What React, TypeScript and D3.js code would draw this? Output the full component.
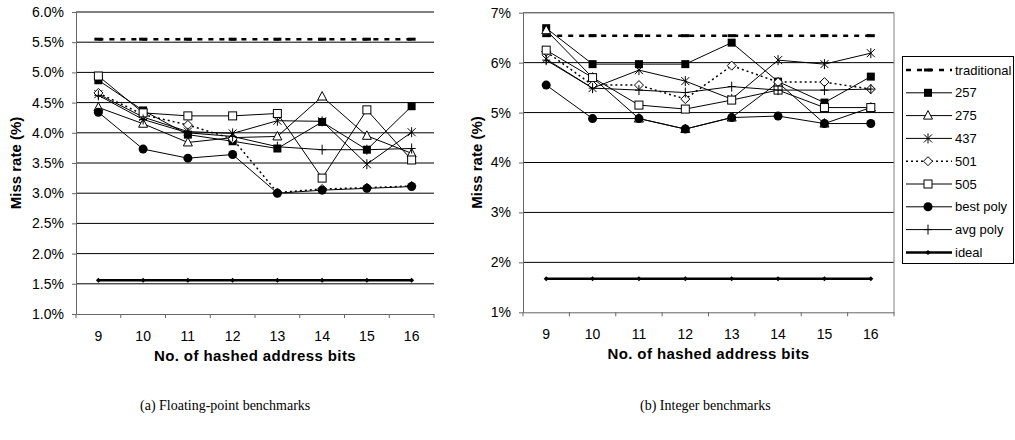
import React, { useEffect, useRef } from 'react'
import * as d3 from 'd3'

// x categories: number of hashed address bits
const bits = ['9', '10', '11', '12', '13', '14', '15', '16']
const seriesNames = ['traditional', '257', '275', '437', '501', '505', 'best poly', 'avg poly', 'ideal']

// (a) floating-point benchmarks, miss rate in %
const fpTraditional = [5.55, 5.55, 5.55, 5.55, 5.55, 5.55, 5.55, 5.55]
const fp257 = [4.87, 4.37, 3.97, 3.86, 3.74, 4.18, 3.72, 4.44]
const fp275 = [4.42, 4.15, 3.84, 3.92, 3.94, 4.6, 3.95, 3.66]
const fp437 = [4.64, 4.26, 4.02, 3.99, 4.2, 4.19, 3.48, 4.01]
const fp501 = [4.66, 4.3, 4.13, 3.9, 3.01, 3.07, 3.09, 3.12]
const fp505 = [4.94, 4.33, 4.28, 4.28, 4.32, 3.25, 4.38, 3.55]
const fpBest = [4.34, 3.73, 3.58, 3.64, 3.0, 3.05, 3.08, 3.11]
const fpAvg = [4.62, 4.22, 4.0, 3.94, 3.77, 3.72, 3.72, 3.74]
const fpIdeal = [1.56, 1.56, 1.56, 1.56, 1.56, 1.56, 1.56, 1.56]
const fpTicks = [1.0, 1.5, 2.0, 2.5, 3.0, 3.5, 4.0, 4.5, 5.0, 5.5, 6.0]

// (b) integer benchmarks, miss rate in %
const intTraditional = [6.54, 6.54, 6.54, 6.54, 6.54, 6.54, 6.54, 6.54]
const int257 = [6.69, 5.97, 5.97, 5.97, 6.4, 5.62, 5.2, 5.72]
const int275 = [6.65, 5.7, 4.88, 4.67, 4.9, 5.6, 4.78, 5.1]
const int437 = [6.07, 5.49, 5.85, 5.63, 5.27, 6.05, 5.97, 6.19]
const int501 = [6.22, 5.55, 5.55, 5.27, 5.94, 5.61, 5.61, 5.47]
const int505 = [6.25, 5.7, 5.15, 5.07, 5.25, 5.45, 5.1, 5.1]
const intBest = [5.55, 4.88, 4.88, 4.67, 4.9, 4.93, 4.78, 4.78]
const intAvg = [6.05, 5.49, 5.45, 5.4, 5.52, 5.45, 5.45, 5.47]
const intIdeal = [1.67, 1.67, 1.67, 1.67, 1.67, 1.67, 1.67, 1.67]
const intTicks = [1, 2, 3, 4, 5, 6, 7]

const styles: any = {
  traditional: { marker: 'dash', width: 2.5, dash: '5,6' },
  '257': { marker: 'square', width: 1 },
  '275': { marker: 'triangle', width: 1 },
  '437': { marker: 'asterisk', width: 1 },
  '501': { marker: 'diamond', width: 1.5, dash: '2,3' },
  '505': { marker: 'openSquare', width: 1 },
  'best poly': { marker: 'circle', width: 1 },
  'avg poly': { marker: 'plus', width: 1 },
  ideal: { marker: 'dot', width: 2.5 },
}

const font = 'Arial, "Liberation Sans", sans-serif'

function drawMarker(g: any, type: string, cx: number, cy: number) {
  if (type === 'dash') {
    g.append('rect').attr('x', cx - 4).attr('y', cy - 1.5).attr('width', 8).attr('height', 3).attr('fill', '#000')
  } else if (type === 'square') {
    g.append('rect').attr('x', cx - 4).attr('y', cy - 4).attr('width', 8).attr('height', 8).attr('fill', '#000')
  } else if (type === 'openSquare') {
    g.append('rect').attr('x', cx - 4).attr('y', cy - 4).attr('width', 8).attr('height', 8)
      .attr('fill', '#fff').attr('stroke', '#000')
  } else if (type === 'triangle') {
    g.append('path').attr('d', `M${cx},${cy - 5}L${cx + 4.5},${cy + 3.5}L${cx - 4.5},${cy + 3.5}Z`)
      .attr('fill', '#fff').attr('stroke', '#000')
  } else if (type === 'diamond') {
    g.append('path').attr('d', `M${cx},${cy - 4.5}L${cx + 4.5},${cy}L${cx},${cy + 4.5}L${cx - 4.5},${cy}Z`)
      .attr('fill', '#fff').attr('stroke', '#000')
  } else if (type === 'circle') {
    g.append('circle').attr('cx', cx).attr('cy', cy).attr('r', 4.5).attr('fill', '#000')
  } else if (type === 'dot') {
    g.append('path').attr('d', `M${cx},${cy - 2.5}L${cx + 2.5},${cy}L${cx},${cy + 2.5}L${cx - 2.5},${cy}Z`)
      .attr('fill', '#000')
  } else if (type === 'asterisk') {
    g.append('path')
      .attr('d', `M${cx - 4},${cy - 4}L${cx + 4},${cy + 4}M${cx - 4},${cy + 4}L${cx + 4},${cy - 4}M${cx},${cy - 5}L${cx},${cy + 5}`)
      .attr('stroke', '#000').attr('fill', 'none')
  } else if (type === 'plus') {
    g.append('path').attr('d', `M${cx},${cy - 5}L${cx},${cy + 5}M${cx - 4},${cy}L${cx + 4},${cy}`)
      .attr('stroke', '#000').attr('fill', 'none')
  }
}

function drawPanel(svg: any, p: any) {
  const x = d3.scaleBand().domain(bits).range([p.x0, p.x1])
  const y = d3.scaleLinear().domain([p.ticks[0], p.ticks[p.ticks.length - 1]]).range([p.y1, p.y0])
  const g = svg.append('g')

  /* gridlines */
  g.selectAll('.grid').data(p.ticks.slice(1)).enter().append('line')
    .attr('x1', p.x0).attr('x2', p.x1)
    .attr('y1', (d: number) => y(d)).attr('y2', (d: number) => y(d))
    .attr('stroke', '#000')

  if (p.border) {
    g.append('line').attr('x1', p.x1).attr('x2', p.x1).attr('y1', p.y0).attr('y2', p.y1).attr('stroke', '#808080')
    g.append('line').attr('x1', p.x0).attr('x2', p.x1).attr('y1', p.y0).attr('y2', p.y0).attr('stroke', '#808080')
  }

  /* y axis */
  const yAxis = g.append('g').attr('transform', `translate(${p.x0},0)`)
    .call(d3.axisLeft(y).tickValues(p.ticks).tickFormat(p.fmt).tickSize(4).tickSizeOuter(0).tickPadding(8))
  yAxis.select('.domain').attr('stroke', '#666')
  yAxis.selectAll('line').attr('stroke', '#666')
  yAxis.selectAll('text').attr('font-size', 14).attr('font-family', font).attr('fill', '#000')

  /* x axis: labels centred, ticks on the category edges */
  const xAxis = g.append('g').attr('transform', `translate(0,${p.y1})`)
    .call(d3.axisBottom(x).tickSize(0).tickPadding(17))
  xAxis.select('.domain').attr('stroke', '#666')
  xAxis.selectAll('text').attr('font-size', 14).attr('font-family', font).attr('fill', '#000')
  const edges = bits.map((b) => x(b) as number).concat([p.x1])
  g.selectAll('.xtick').data(edges).enter().append('line')
    .attr('x1', (d: number) => d).attr('x2', (d: number) => d)
    .attr('y1', p.y1).attr('y2', p.y1 + 4).attr('stroke', '#666')

  /* titles */
  g.append('text').attr('x', (p.x0 + p.x1) / 2).attr('y', p.y1 + 47)
    .attr('text-anchor', 'middle').attr('font-family', font).attr('font-weight', 'bold')
    .attr('font-size', 15).attr('letter-spacing', 0.4).text('No. of hashed address bits')
  g.append('text').attr('transform', `translate(${p.ytitleX},${(p.y0 + p.y1) / 2}) rotate(-90)`)
    .attr('text-anchor', 'middle').attr('font-family', font).attr('font-weight', 'bold')
    .attr('font-size', 15).text('Miss rate (%)')
  svg.append('text').attr('x', p.captionX).attr('y', 410)
    .attr('font-family', '"Liberation Serif", "Times New Roman", serif').attr('font-size', 14)
    .text(p.caption)

  /* series */
  const cx = (i: number) => (x(bits[i]) as number) + x.bandwidth() / 2
  const line = d3.line<number>().x((d, i) => cx(i)).y((d) => y(d))
  seriesNames.forEach((name, k) => {
    const st = styles[name]
    const vals = p.series[k]
    const sg = g.append('g')
    sg.append('path').attr('d', line(vals)).attr('fill', 'none').attr('stroke', '#000')
      .attr('stroke-width', st.width).attr('stroke-dasharray', st.dash || null)
    vals.forEach((v: number, i: number) => drawMarker(sg, st.marker, cx(i), y(v)))
  })
}

export default function App() {
  const ref = useRef<SVGSVGElement>(null)

  useEffect(() => {
    const svg = d3.select(ref.current)
    svg.selectAll('*').remove()
    svg.append('rect').attr('width', 1015).attr('height', 440).attr('fill', '#fff')

    drawPanel(svg, {
      x0: 76, x1: 434, y0: 12, y1: 314, ticks: fpTicks, fmt: (d: number) => d.toFixed(1) + '%',
      series: [fpTraditional, fp257, fp275, fp437, fp501, fp505, fpBest, fpAvg, fpIdeal],
      ytitleX: 21, border: false, captionX: 140, caption: '(a) Floating-point benchmarks',
    })
    drawPanel(svg, {
      x0: 523, x1: 894, y0: 12.7, y1: 312.3, ticks: intTicks, fmt: (d: number) => d + '%',
      series: [intTraditional, int257, int275, int437, int501, int505, intBest, intAvg, intIdeal],
      ytitleX: 482, border: true, captionX: 640, caption: '(b) Integer benchmarks',
    })

    /* legend */
    const lg = svg.append('g')
    lg.append('rect').attr('x', 902.5).attr('y', 56.5).attr('width', 111).attr('height', 207)
      .attr('fill', '#fff').attr('stroke', '#000')
    seriesNames.forEach((name, i) => {
      const st = styles[name]
      const ly = 70 + i * 22.8
      lg.append('line').attr('x1', 906).attr('x2', 952).attr('y1', ly).attr('y2', ly)
        .attr('stroke', '#000').attr('stroke-width', st.width).attr('stroke-dasharray', st.dash || null)
      drawMarker(lg, st.marker, 928, ly)
      lg.append('text').attr('x', 955).attr('y', ly).attr('dy', '0.35em')
        .attr('font-family', font).attr('font-size', 13).text(name)
    })
  }, [])

  return (
    <svg ref={ref} width={1015} height={440} style={{ position: 'absolute', left: 0, top: 0 }} />
  )
}
